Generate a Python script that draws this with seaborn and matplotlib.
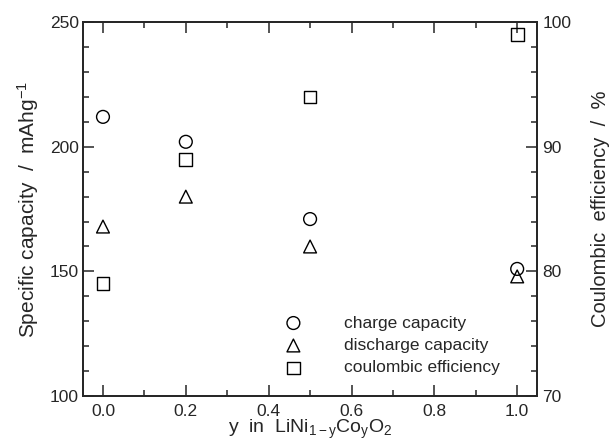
import numpy as np
import pandas as pd
from matplotlib import pyplot as plt
from matplotlib.ticker import MultipleLocator, FixedFormatter, FixedLocator
import seaborn as sns

##### Data

y_co = [0.0, 0.2, 0.5, 1.0]
charge_capacity = [212, 202, 171, 151]
discharge_capacity = [168, 180, 160, 148]
coulombic_efficiency = [79, 89, 94, 99]

x_ticks = [0.0, 0.2, 0.4, 0.6, 0.8, 1.0]
x_tick_labels = ['0.0', '0.2', '0.4', '0.6', '0.8', '1.0']

df = pd.DataFrame({'y': y_co, 'charge': charge_capacity,
                   'discharge': discharge_capacity, 'eff': coulombic_efficiency})

sns.set_style('ticks')
plt.rcParams['font.family'] = ['Liberation Sans', 'DejaVu Sans']
plt.rcParams['mathtext.fontset'] = 'custom'
plt.rcParams['mathtext.rm'] = 'Liberation Sans'
plt.rcParams['mathtext.it'] = 'Liberation Sans'

fig = plt.figure(figsize=(6.11, 4.43), dpi=100)
ax = fig.add_axes([0.136, 0.106, 0.743, 0.844])
ax2 = ax.twinx()

mk = dict(color='none', edgecolor='black', linewidth=1.0, s=85, zorder=3)
sns.scatterplot(data=df, x='y', y='charge', marker='o', ax=ax, label='charge capacity', **mk)
sns.scatterplot(data=df, x='y', y='discharge', marker='^', ax=ax, label='discharge capacity', **mk)
sns.scatterplot(data=df, x='y', y='eff', marker='s', ax=ax2, label='coulombic efficiency', **mk)

ax.set_xlim(-0.048, 1.048)
ax.set_ylim(100, 250)
ax2.set_ylim(70, 100)

ax.xaxis.set_major_locator(FixedLocator(x_ticks))
ax.xaxis.set_major_formatter(FixedFormatter(x_tick_labels))
ax.xaxis.set_minor_locator(MultipleLocator(0.1))
ax.yaxis.set_major_locator(MultipleLocator(50))
ax.yaxis.set_minor_locator(MultipleLocator(10))
ax2.yaxis.set_major_locator(MultipleLocator(10))
ax2.yaxis.set_minor_locator(MultipleLocator(2))

for a in (ax, ax2):
    for s in a.spines.values():
        s.set_linewidth(1.3)
        s.set_visible(True)
    a.tick_params(which='both', direction='in', top=True, labelsize=12.5, width=1.1)
    a.tick_params(which='major', length=8)
    a.tick_params(which='minor', length=4)
ax.tick_params(axis='y', which='both', right=False, pad=3)
ax2.tick_params(axis='y', which='both', left=False, pad=4)
ax.tick_params(axis='x', pad=6)

ax.set_xlabel(r'y  in  LiNi$_{1-y}$Co$_y$O$_2$', fontsize=14, labelpad=-1)
ax.set_ylabel(r'Specific capacity  /  mAhg$^{-1}$', fontsize=15, labelpad=6)
ax2.set_ylabel('Coulombic  efficiency  /  %', fontsize=14.5, labelpad=14)

h1, l1 = ax.get_legend_handles_labels()
h2, l2 = ax2.get_legend_handles_labels()
if ax2.get_legend():
    ax2.get_legend().remove()
ax.legend(h1 + h2, l1 + l2, loc='lower left', bbox_to_anchor=(0.425, 0.055),
          frameon=False, fontsize=12.5, handletextpad=1.9, labelspacing=0.42,
          borderpad=0, borderaxespad=0)

plt.savefig('out.png', dpi=100)
